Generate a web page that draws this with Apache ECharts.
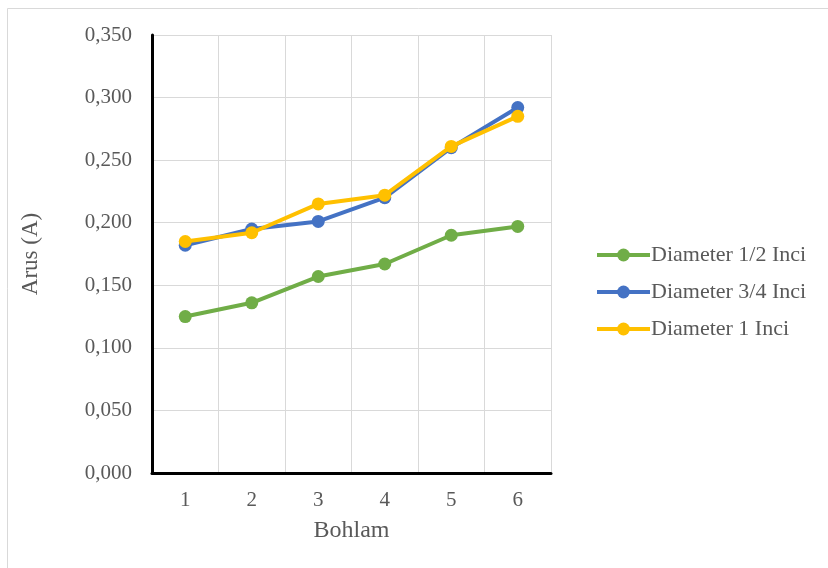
<!DOCTYPE html>
<html>
<head>
<meta charset="utf-8">
<script src="https://cdn.jsdelivr.net/npm/echarts@6/dist/echarts.min.js"></script>
<style>
  html, body { margin: 0; padding: 0; background: #fff; }
  #chart { width: 828px; height: 568px; }
</style>
</head>
<body>
<div id="chart"></div>
<script>
// Bulb index along the x axis
const categories = ['1', '2', '3', '4', '5', '6'];

// Measured current (A) per bulb for each wire diameter
const diameterHalf = [0.125, 0.136, 0.157, 0.167, 0.190, 0.197];
const diameterThreeQuarter = [0.182, 0.195, 0.201, 0.220, 0.260, 0.292];
const diameterOne = [0.185, 0.192, 0.215, 0.222, 0.261, 0.285];

const seriesNames = ['Diameter 1/2 Inci', 'Diameter 3/4 Inci', 'Diameter 1 Inci'];
const seriesColors = ['#70AD47', '#4472C4', '#FFC000'];
const seriesData = [diameterHalf, diameterThreeQuarter, diameterOne];

const FONT = '"Liberation Serif", "Times New Roman", serif';
const TEXT = '#595959';

const chart = echarts.init(document.getElementById('chart'), null, { renderer: 'canvas' });

chart.setOption({
  backgroundColor: '#fff',
  animation: false,
  graphic: [{
    type: 'rect',
    shape: { x: 7.5, y: 8.5, width: 830, height: 580 },
    style: { fill: 'none', stroke: '#d9d9d9', lineWidth: 1 },
    silent: true
  }],
  grid: { left: 152, right: 277, top: 35, bottom: 95, containLabel: false },
  legend: {
    orient: 'vertical',
    left: 590,
    top: 239,
    itemWidth: 53,
    itemHeight: 16,
    itemGap: 15,
    lineStyle: { width: 4 },
    textStyle: {
      fontFamily: FONT, fontSize: 22, color: TEXT, lineHeight: 22,
      padding: [0, 0, 0, -4]
    },
    data: seriesNames
  },
  xAxis: {
    type: 'category',
    data: categories,
    boundaryGap: true,
    name: 'Bohlam',
    nameLocation: 'middle',
    nameGap: 46,
    nameTextStyle: { fontFamily: FONT, fontSize: 24, color: TEXT },
    axisLine: { lineStyle: { color: '#000', width: 3 } },
    axisTick: { show: false },
    axisLabel: { fontFamily: FONT, fontSize: 21, color: TEXT, margin: 17 },
    splitLine: { show: true, lineStyle: { color: '#d9d9d9', width: 1 } }
  },
  yAxis: {
    type: 'value',
    min: 0,
    max: 0.35,
    interval: 0.05,
    name: 'Arus (A)',
    nameLocation: 'middle',
    nameGap: 110,
    nameTextStyle: { fontFamily: FONT, fontSize: 23, color: TEXT },
    axisLine: { show: true, lineStyle: { color: '#000', width: 3 } },
    axisTick: { show: false },
    axisLabel: {
      fontFamily: FONT, fontSize: 21, color: TEXT, margin: 20,
      formatter: v => v.toFixed(3).replace('.', ',')
    },
    splitLine: { show: true, lineStyle: { color: '#d9d9d9', width: 1 } }
  },
  series: seriesData.map((d, i) => ({
    name: seriesNames[i],
    type: 'line',
    data: d,
    symbol: 'circle',
    symbolSize: 13,
    lineStyle: { color: seriesColors[i], width: 4 },
    itemStyle: { color: seriesColors[i] },
    z: 2 + i
  }))
});
</script>
</body>
</html>
